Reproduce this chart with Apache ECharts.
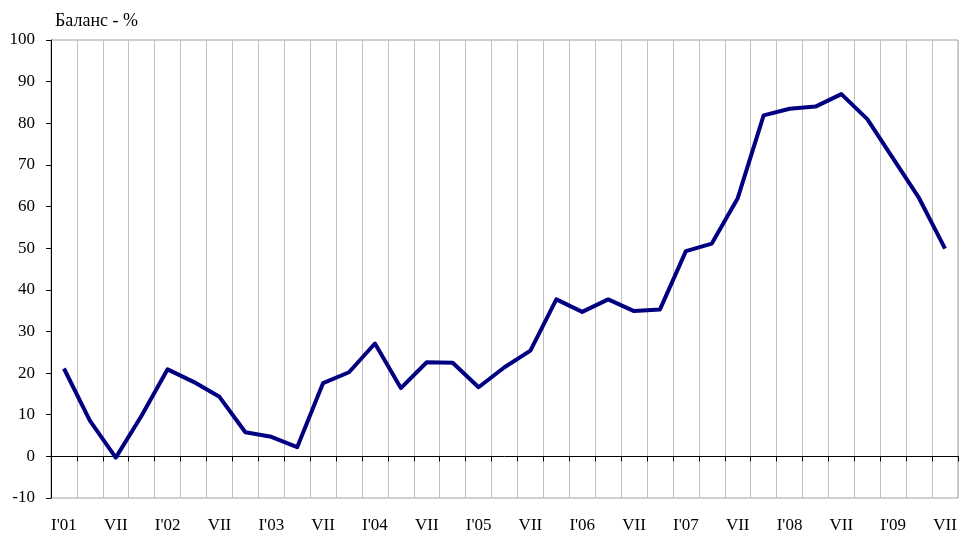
<!DOCTYPE html>
<html>
<head>
<meta charset="utf-8">
<script src="https://cdn.jsdelivr.net/npm/echarts@6/dist/echarts.min.js"></script>
<style>html,body{margin:0;padding:0;background:#fff}#c{width:960px;height:534px}</style>
</head>
<body>
<div id="c"></div>
<script>
// Quarterly categories 2001 Q1 .. 2009 Q3; labels shown on Q1 (I'yy) and Q3 (VII)
var categories = [
 "I'01","IV'01","VII","X'01",
 "I'02","IV'02","VII","X'02",
 "I'03","IV'03","VII","X'03",
 "I'04","IV'04","VII","X'04",
 "I'05","IV'05","VII","X'05",
 "I'06","IV'06","VII","X'06",
 "I'07","IV'07","VII","X'07",
 "I'08","IV'08","VII","X'08",
 "I'09","IV'09","VII"
];
var balance = [
 21.1, 8.6, -0.3, 9.8,
 20.9, 17.9, 14.3, 5.8,
 4.7, 2.2, 17.6, 20.2,
 27.1, 16.4, 22.6, 22.5,
 16.6, 21.4, 25.4, 37.7,
 34.7, 37.7, 34.9, 35.3,
 49.3, 51.1, 62.0, 81.9,
 83.5, 84.0, 87.0, 81.0,
 71.5, 62.0, 49.9
];
var yTicks = { min: -10, max: 100, interval: 10 };
var yName = "Баланс - %";

var font = "'Liberation Serif', 'Times New Roman', serif";
var chart = echarts.init(document.getElementById('c'), null, {renderer: 'canvas'});
chart.setOption({
  animation: false,
  grid: { left: 51, right: 2, top: 40, bottom: 36, show: true, borderColor: '#a0a0a0', borderWidth: 1 },
  xAxis: [
    {
      type: 'category', data: categories, boundaryGap: true,
      axisLine: { onZero: true, lineStyle: { color: '#000', width: 1 } },
      axisTick: { show: true, interval: 0, length: 5, lineStyle: { color: '#000' } },
      axisLabel: { show: false },
      splitLine: { show: true, interval: 0, lineStyle: { color: '#c0c0c0', width: 1 } }
    },
    {
      type: 'category', data: categories, boundaryGap: true, position: 'bottom',
      axisLine: { show: false, onZero: false },
      axisTick: { show: false },
      axisLabel: { interval: 1, margin: 19, fontFamily: font, fontSize: 17, color: '#000' },
      splitLine: { show: false }
    }
  ],
  yAxis: {
    type: 'value', min: yTicks.min, max: yTicks.max, interval: yTicks.interval,
    name: yName, nameLocation: 'end', nameGap: 10,
    nameTextStyle: { fontFamily: font, fontSize: 18, color: '#000', align: 'left', padding: [0, 0, 0, 4] },
    axisLine: { show: true, lineStyle: { color: '#000', width: 1 } },
    axisTick: { show: true, length: 5, lineStyle: { color: '#000' } },
    axisLabel: { fontFamily: font, fontSize: 17, color: '#000', margin: 16 },
    splitLine: { show: false }
  },
  series: [{
    type: 'line', data: balance, xAxisIndex: 0,
    symbol: 'none', smooth: false,
    lineStyle: { color: '#000080', width: 4, join: 'round' }
  }]
});
</script>
</body>
</html>
